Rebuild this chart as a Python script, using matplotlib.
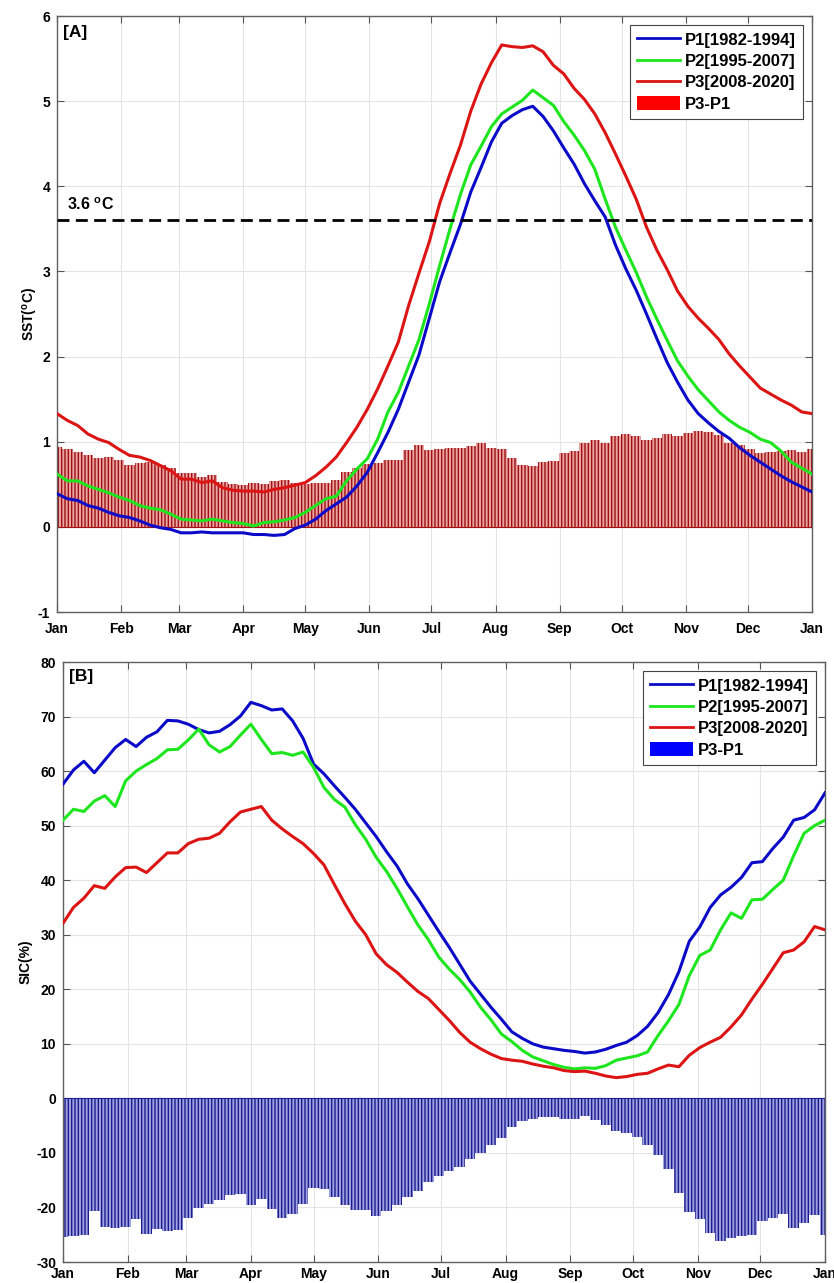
import numpy as np
import matplotlib
matplotlib.use("Agg")
import matplotlib.pyplot as plt
from matplotlib.patches import Patch

plt.rcParams['font.family'] = ['Liberation Sans', 'DejaVu Sans']
plt.rcParams['font.weight'] = 'bold'
plt.rcParams['axes.unicode_minus'] = False
plt.rcParams['mathtext.fontset'] = 'custom'
plt.rcParams['mathtext.rm'] = 'Liberation Sans:bold'
plt.rcParams['mathtext.bf'] = 'Liberation Sans:bold'
plt.rcParams['mathtext.it'] = 'Liberation Sans:bold'
plt.rcParams['hatch.linewidth'] = 1.0

# day of year (5-day steps), Jan 1 = 0
day = np.arange(0, 366, 5)

month_pos = [0, 31, 59, 90, 120, 151, 181, 212, 243, 273, 304, 334, 365]
month_lab = ['Jan', 'Feb', 'Mar', 'Apr', 'May', 'Jun', 'Jul',
             'Aug', 'Sep', 'Oct', 'Nov', 'Dec', 'Jan']

periods = ['P1[1982-1994]', 'P2[1995-2007]', 'P3[2008-2020]']

# [A] SST climatology
sst_p1 = [0.39, 0.33, 0.31, 0.25, 0.22, 0.17, 0.13, 0.11, 0.07, 0.02,
          -0.01, -0.03, -0.07, -0.07, -0.06, -0.07, -0.07, -0.07, -0.07, -0.09,
          -0.09, -0.10, -0.09, -0.02, 0.02, 0.09, 0.19, 0.27, 0.35, 0.48,
          0.64, 0.87, 1.11, 1.38, 1.70, 2.02, 2.45, 2.88, 3.22, 3.55,
          3.93, 4.22, 4.52, 4.74, 4.83, 4.90, 4.94, 4.82, 4.65, 4.45,
          4.26, 4.03, 3.83, 3.64, 3.31, 3.03, 2.78, 2.50, 2.21, 1.93,
          1.70, 1.49, 1.33, 1.22, 1.12, 1.04, 0.93, 0.84, 0.76, 0.68,
          0.60, 0.53, 0.47, 0.41]
sst_p2 = [0.62, 0.54, 0.54, 0.48, 0.44, 0.40, 0.35, 0.31, 0.25, 0.22,
          0.20, 0.15, 0.09, 0.08, 0.07, 0.09, 0.07, 0.05, 0.04, 0.01,
          0.05, 0.06, 0.08, 0.11, 0.17, 0.25, 0.33, 0.36, 0.54, 0.68,
          0.80, 1.03, 1.35, 1.58, 1.89, 2.20, 2.62, 3.07, 3.50, 3.90,
          4.25, 4.47, 4.70, 4.85, 4.93, 5.01, 5.13, 5.04, 4.95, 4.76,
          4.60, 4.42, 4.20, 3.85, 3.52, 3.25, 2.99, 2.70, 2.44, 2.19,
          1.95, 1.77, 1.61, 1.48, 1.35, 1.25, 1.17, 1.11, 1.03, 0.99,
          0.89, 0.76, 0.69, 0.62]
sst_p3 = [1.33, 1.25, 1.19, 1.09, 1.03, 0.99, 0.91, 0.84, 0.82, 0.78,
          0.72, 0.66, 0.56, 0.56, 0.52, 0.54, 0.46, 0.43, 0.42, 0.42,
          0.41, 0.44, 0.46, 0.49, 0.52, 0.60, 0.70, 0.82, 0.99, 1.17,
          1.38, 1.62, 1.89, 2.17, 2.60, 2.98, 3.35, 3.80, 4.15, 4.48,
          4.88, 5.20, 5.45, 5.66, 5.64, 5.63, 5.65, 5.58, 5.42, 5.32,
          5.15, 5.02, 4.85, 4.63, 4.38, 4.12, 3.85, 3.52, 3.25, 3.02,
          2.77, 2.59, 2.45, 2.33, 2.20, 2.03, 1.89, 1.76, 1.63, 1.56,
          1.49, 1.43, 1.35, 1.33]

# [B] SIC climatology
sic_p1 = [57.6, 60.2, 61.8, 59.7, 62.0, 64.3, 65.8, 64.5, 66.2, 67.2,
          69.3, 69.2, 68.6, 67.6, 67.0, 67.3, 68.5, 70.1, 72.6, 72.0,
          71.2, 71.4, 69.2, 66.0, 61.3, 59.5, 57.3, 55.2, 53.0, 50.5,
          48.0, 45.2, 42.6, 39.3, 36.6, 33.6, 30.6, 27.7, 24.6, 21.5,
          19.1, 16.7, 14.5, 12.2, 11.0, 10.0, 9.4, 9.1, 8.8, 8.6,
          8.3, 8.5, 9.0, 9.7, 10.3, 11.5, 13.2, 15.7, 19.0, 23.2,
          28.8, 31.4, 35.0, 37.3, 38.7, 40.5, 43.2, 43.4, 45.8, 47.9,
          51.0, 51.5, 52.9, 56.0]
sic_p2 = [51.0, 53.0, 52.6, 54.5, 55.5, 53.5, 58.2, 60.0, 61.2, 62.3,
          63.9, 64.0, 65.7, 67.7, 64.8, 63.5, 64.5, 66.6, 68.6, 65.8,
          63.2, 63.4, 62.9, 63.5, 60.7, 57.0, 54.8, 53.4, 50.2, 47.5,
          44.2, 41.6, 38.5, 35.1, 31.8, 29.1, 25.9, 23.7, 21.8, 19.5,
          16.7, 14.4, 11.8, 10.4, 8.8, 7.6, 6.9, 6.2, 5.7, 5.4,
          5.6, 5.5, 6.0, 7.0, 7.4, 7.8, 8.5, 11.5, 14.2, 17.2,
          22.5, 26.2, 27.2, 30.9, 34.0, 33.0, 36.4, 36.5, 38.3, 40.0,
          44.5, 48.6, 50.0, 51.0]
sic_p3 = [32.1, 35.0, 36.7, 39.0, 38.5, 40.6, 42.3, 42.4, 41.4, 43.2,
          45.0, 45.0, 46.7, 47.5, 47.7, 48.6, 50.7, 52.5, 53.0, 53.5,
          51.0, 49.4, 48.0, 46.7, 44.9, 42.8, 39.2, 35.7, 32.5, 30.0,
          26.5, 24.5, 23.1, 21.3, 19.6, 18.3, 16.3, 14.3, 12.1, 10.3,
          9.1, 8.1, 7.3, 7.0, 6.8, 6.3, 5.9, 5.6, 5.1, 4.9,
          5.0, 4.6, 4.1, 3.8, 4.0, 4.4, 4.6, 5.4, 6.1, 5.8,
          7.9, 9.3, 10.3, 11.2, 13.1, 15.3, 18.2, 20.9, 23.8, 26.7,
          27.2, 28.7, 31.5, 30.9]

line_colors = ['#0a0ac8', '#1ee61e', '#dc1414']


def style_axes(ax, yticks, ylim, xpad):
    ax.set_xlim(0, 365)
    ax.set_ylim(*ylim)
    ax.set_xticks(month_pos)
    ax.set_xticklabels(month_lab)
    ax.set_yticks(yticks)
    ax.grid(True, color='#e4e4e4', lw=0.8)
    ax.set_axisbelow(True)
    ax.tick_params(direction='in', top=True, right=True, length=5,
                   color='#555555', labelsize=10)
    ax.tick_params(axis='x', pad=xpad)
    ax.tick_params(axis='y', pad=5)
    for s in ax.spines.values():
        s.set_color('#606060')
        s.set_linewidth(1.0)


def panel(ax, p1, p2, p3, bar_face, bar_hatch, patch_color):
    diff = np.array(p3) - np.array(p1)
    ax.bar(day, diff, width=5, color=bar_face, edgecolor=bar_hatch,
           linewidth=0, hatch='|||||', zorder=2)
    ax.axhline(0, color=bar_hatch, lw=0.8, zorder=2)
    for vals, c in zip([p1, p2, p3], line_colors):
        ax.plot(day, vals, color=c, lw=2.2, zorder=3)
    handles = [plt.Line2D([], [], color=c, lw=2) for c in line_colors]
    handles.append(Patch(facecolor=patch_color, edgecolor='none'))
    leg = ax.legend(handles, periods + ['P3-P1'], loc='upper right',
                    fontsize=12, frameon=True, fancybox=False,
                    edgecolor='#444444', framealpha=1, borderpad=0.4,
                    labelspacing=0.35, handlelength=2.6, handleheight=0.9,
                    handletextpad=0.3, borderaxespad=0.55)
    leg.get_frame().set_linewidth(0.8)


fig = plt.figure(figsize=(8.34, 12.83), dpi=100)
axA = fig.add_axes([57 / 834, 1 - 612 / 1283, 755 / 834, 596 / 1283])
axB = fig.add_axes([63 / 834, 1 - 1262 / 1283, 762 / 834, 600 / 1283])

# panel A
panel(axA, sst_p1, sst_p2, sst_p3, '#eaa4a4', '#a01010', '#ff0000')
axA.axhline(3.6, color='black', lw=2, dashes=(4.3, 2.3), zorder=3)
axA.text(5, 3.72, r'3.6 $^{\mathbf{o}}$C', fontsize=11.5, fontweight='bold')
axA.text(3, 5.9, '[A]', fontsize=12.5, fontweight='bold', va='top')
style_axes(axA, range(-1, 7), (-1, 6), 7)
axA.set_ylabel(r'SST($^{\mathbf{o}}$C)', fontsize=10, fontweight='bold')
axA.yaxis.set_label_coords(-0.022, 0.5)

# panel B
panel(axB, sic_p1, sic_p2, sic_p3, '#9ea2e2', '#1c1c8c', '#0000ff')
axB.text(3, 78.8, '[B]', fontsize=12.5, fontweight='bold', va='top')
style_axes(axB, range(-30, 81, 10), (-30, 80), 3.5)
axB.set_ylabel('SIC(%)', fontsize=10, fontweight='bold')
axB.yaxis.set_label_coords(-0.040, 0.5)

fig.savefig('out.png', dpi=100)
